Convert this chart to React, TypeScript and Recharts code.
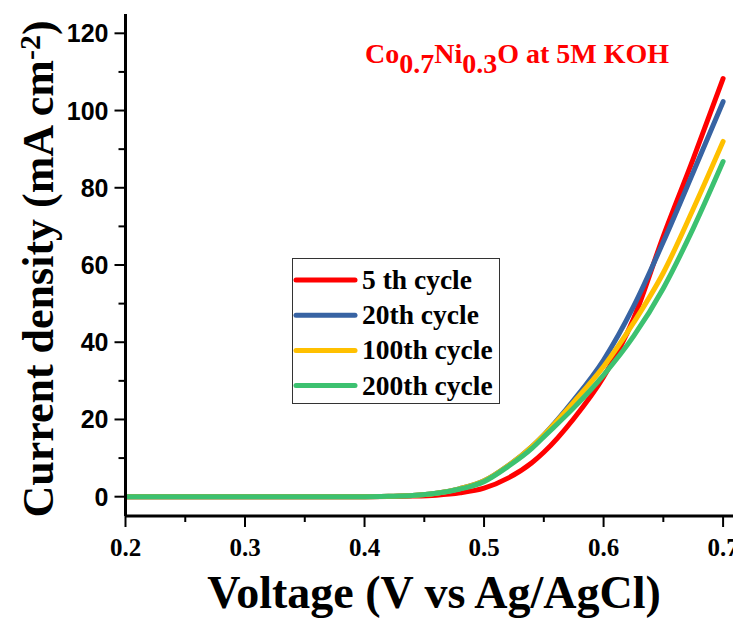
import React from "react";
import { LineChart, Line, XAxis, YAxis, Legend, Customized } from "recharts";

const voltage = [0.2, 0.25, 0.3, 0.35, 0.4, 0.42, 0.44, 0.46, 0.48, 0.5, 0.52, 0.54, 0.55, 0.575, 0.6, 0.625, 0.65, 0.675, 0.7];
const cycle5 = [0, 0, 0, 0, 0, 0.05, 0.15, 0.4, 1.0, 2.2, 4.8, 8.8, 11.5, 20.2, 31, 46, 67.5, 87.5, 108.3];
const cycle20 = [0, 0, 0, 0, 0, 0.1, 0.3, 0.9, 2.1, 4.1, 8.0, 13.0, 16.0, 25.0, 35.4, 49.2, 66, 84, 102.3];
const cycle100 = [0, 0, 0, 0, 0, 0.1, 0.3, 0.9, 2.1, 4.1, 8.0, 13.0, 16.0, 24.5, 33.7, 45, 58, 74.5, 92];
const cycle200 = [0, 0, 0, 0, 0, 0.1, 0.3, 0.9, 2.0, 3.9, 7.8, 12.5, 15.5, 23, 31.5, 41.5, 54, 69.5, 86.8];

const seriesNames = ["5 th cycle", "20th cycle", "100th cycle", "200th cycle"];
const seriesColors = ["#FF0000", "#3763A3", "#FFC000", "#3CC170"];
const seriesKeys = ["c5", "c20", "c100", "c200"];

const xTicks = [0.2, 0.25, 0.3, 0.35, 0.4, 0.45, 0.5, 0.55, 0.6, 0.65, 0.7];
const yTicks = [0, 10, 20, 30, 40, 50, 60, 70, 80, 90, 100, 110, 120];

const data = voltage.map((v, i) => ({
  v,
  c5: cycle5[i],
  c20: cycle20[i],
  c100: cycle100[i],
  c200: cycle200[i],
}));

const SERIF = "'Liberation Serif', 'Times New Roman', serif";
const SANS = "'Liberation Sans', Arial, sans-serif";

const XTick = (props: any) => {
  const { x, y, payload } = props;
  const v = payload.value;
  const major = Math.abs(v * 10 - Math.round(v * 10)) < 1e-6;
  return (
    <g>
      <line x1={x} y1={y} x2={x} y2={y + (major ? 11 : 6)} stroke="#000" strokeWidth={2} />
      {major && (
        <text x={x} y={y + 40} textAnchor="middle" fontFamily={SERIF} fontWeight="bold" fontSize={25} fill="#000">
          {v.toFixed(1)}
        </text>
      )}
    </g>
  );
};

const YTick = (props: any) => {
  const { x, y, payload } = props;
  const v = payload.value;
  const major = v % 20 === 0;
  return (
    <g>
      <line x1={x} y1={y} x2={x - (major ? 11 : 7)} y2={y} stroke="#000" strokeWidth={2} />
      {major && (
        <text x={x - 17} y={y} dy="0.36em" textAnchor="end" fontFamily={SANS} fontWeight="bold" fontSize={25} fill="#000">
          {v}
        </text>
      )}
    </g>
  );
};

const Texts = () => (
  <g>
    <text x={357} y={55} fontFamily={SERIF} fontWeight="bold" fontSize={28} fill="#FF0000">
      Co
      <tspan dy={10}>0.7</tspan>
      <tspan dy={-10}>Ni</tspan>
      <tspan dy={10}>0.3</tspan>
      <tspan dy={-10}>O at 5M KOH</tspan>
    </text>
    <text
      x={45}
      y={261}
      transform="rotate(-90, 45, 261)"
      textAnchor="middle"
      fontFamily={SERIF}
      fontWeight="bold"
      fontSize={44}
      fill="#000"
    >
      Current density (mA cm
      <tspan dy={-13} fontSize={30}>-2</tspan>
      <tspan dy={13}>)</tspan>
    </text>
    <text x={426} y={600} textAnchor="middle" fontFamily={SERIF} fontWeight="bold" fontSize={46} fill="#000">
      Voltage (V vs Ag/AgCl)
    </text>
  </g>
);

const LegendBox = () => (
  <svg width={210} height={148} style={{ display: "block" }}>
    <rect x={0.5} y={0.5} width={207} height={145} fill="#fff" stroke="#333" strokeWidth={1} />
    {seriesNames.map((name, i) => {
      const cy = 22 + i * 35.2;
      return (
        <g key={name}>
          <line x1={4} y1={cy} x2={63} y2={cy} stroke={seriesColors[i]} strokeWidth={5} strokeLinecap="round" />
          <text x={70} y={cy + 9} fontFamily={SERIF} fontWeight="bold" fontSize={27.5} fill="#000">
            {name}
          </text>
        </g>
      );
    })}
  </svg>
);

export default function App() {
  return (
    <div style={{ width: 733, height: 611, overflow: "hidden", position: "relative", background: "#fff" }}>
      <LineChart width={760} height={611} data={data} margin={{ top: 6, right: 21, bottom: 0, left: 0 }}>
        <XAxis
          dataKey="v"
          type="number"
          domain={[0.2, 0.72]}
          allowDataOverflow
          ticks={xTicks}
          interval={0}
          height={103}
          tickSize={0}
          tickMargin={0}
          tickLine={false}
          tick={<XTick />}
          axisLine={{ stroke: "#000", strokeWidth: 3 }}
        />
        <XAxis
          xAxisId="top"
          orientation="top"
          type="number"
          domain={[0.2, 0.72]}
          allowDataOverflow
          height={0}
          tick={false}
          tickLine={false}
          axisLine={{ stroke: "#000", strokeWidth: 3 }}
        />
        <YAxis
          type="number"
          domain={[-5, 125]}
          allowDataOverflow
          ticks={yTicks}
          interval={0}
          width={117.5}
          tickSize={0}
          tickMargin={0}
          tickLine={false}
          tick={<YTick />}
          axisLine={{ stroke: "#000", strokeWidth: 3 }}
        />
        {seriesKeys.map((k, i) => (
          <Line
            key={k}
            dataKey={k}
            name={seriesNames[i]}
            type="monotone"
            stroke={seriesColors[i]}
            strokeWidth={5}
            strokeLinecap="round"
            dot={false}
            activeDot={false}
            isAnimationActive={false}
          />
        ))}
        <Legend
          layout="vertical"
          align="center"
          verticalAlign="middle"
          content={<LegendBox />}
          wrapperStyle={{ left: 284, top: 250, width: 210, height: 148 }}
        />
        <Customized component={Texts} />
      </LineChart>
    </div>
  );
}
